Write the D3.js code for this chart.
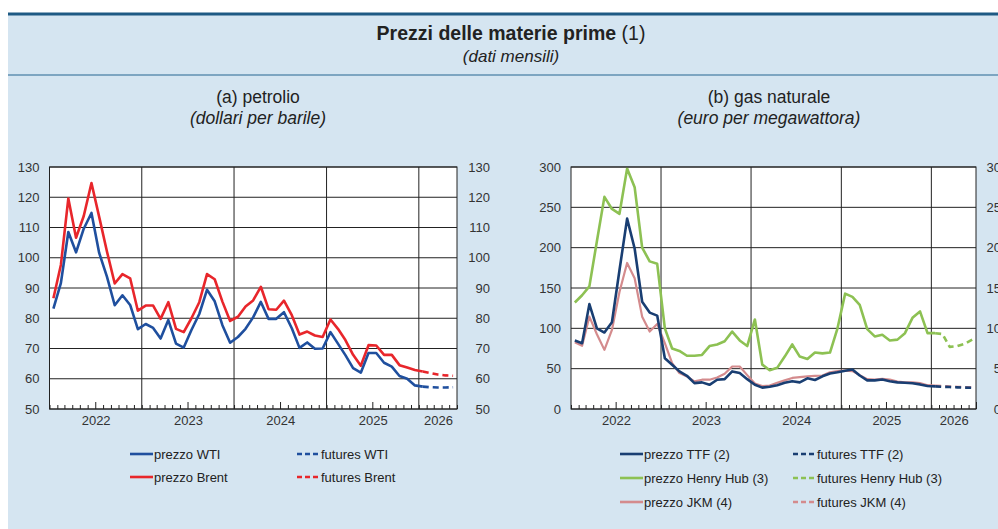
<!DOCTYPE html>
<html>
<head>
<meta charset="utf-8">
<script src="https://cdn.jsdelivr.net/npm/d3@7"></script>
<style>
body { margin: 0; background: #fff; }
svg { display: block; font-family: "Liberation Sans", Arial, sans-serif; }
</style>
</head>
<body>
<div id="chart"></div>
<script>
// monthly averages, Jan 2022 - Jan 2026
const startMonth = new Date(2022, 0, 1);
const futuresStart = new Date(2026, 0, 1);

// (a) oil, dollars per barrel
const wti = [
    83.2, 91.6, 108.5, 101.8, 109.6, 114.8, 101.6, 93.7, 84.3, 87.6, 84.4, 76.4,
    78.1, 76.8, 73.3, 79.4, 71.6, 70.3, 76.1, 81.4, 89.4, 85.6, 77.7, 71.9,
    73.8, 76.5, 80.3, 85.4, 79.8, 79.8, 82.0, 76.7, 70.2, 72.0, 69.9, 70.0,
    75.4, 71.6, 67.8, 63.5, 62.0, 68.5, 68.5, 65.3, 64.0, 60.9, 60.0, 57.8,
    57.4
];
const brent = [
    86.6, 97.6, 119.6, 106.6, 113.8, 124.7, 113.5, 102.0, 91.5, 94.6, 93.2, 82.5,
    84.2, 84.2, 79.8, 85.3, 76.5, 75.4, 80.0, 85.3, 94.6, 92.9, 85.5, 79.1,
    80.5, 83.9, 85.9, 90.4, 83.0, 82.8, 85.8, 81.0, 74.6, 75.6, 74.3, 73.8,
    79.6, 76.5, 72.8, 67.9, 64.3, 71.1, 71.0, 67.9, 67.9, 64.5, 63.7, 62.9,
    62.4
];
const futuresWti = [57.4, 57.2, 57.1, 57.1, 57.2];
const futuresBrent = [62.4, 61.9, 61.4, 61.1, 61.0];

// (b) natural gas, euro per megawatt hour (Henry Hub on right axis)
const ttf = [
    84.9, 81.6, 130.0, 100.0, 94.8, 107.5, 172.0, 236.0, 199.0, 133.0, 119.5, 115.8,
    63.0, 54.8, 46.6, 41.2, 32.1, 33.0, 30.0, 36.3, 37.0, 46.6, 44.5, 37.0,
    30.0, 26.5, 27.5, 29.5, 32.5, 34.5, 33.0, 38.0, 36.0, 40.5, 44.0, 45.5,
    47.5, 49.0, 41.5, 35.5, 35.5, 36.5, 34.5, 33.0, 32.5, 32.0, 30.5, 28.5,
    28.0
];
const jkm = [
    82.8, 78.3, 114.5, 92.7, 73.3, 98.0, 145.0, 181.0, 162.0, 114.5, 96.0, 105.5,
    81.6, 57.0, 44.5, 40.4, 34.2, 36.3, 36.3, 39.1, 43.7, 52.7, 52.7, 42.0,
    31.5, 28.5, 29.0, 32.5, 35.5, 38.5, 39.5, 40.5, 41.0, 41.5, 45.5, 47.0,
    47.5, 47.0, 42.0, 37.0, 36.5, 37.5, 36.5, 34.0, 33.0, 33.0, 32.0, 29.5,
    29.0
];
const henryHub = [
    13.2, 14.1, 15.2, 20.8, 26.3, 24.8, 24.2, 29.8, 27.5, 20.0, 18.3, 18.0,
    10.0, 7.5, 7.2, 6.6, 6.6, 6.7, 7.8, 8.0, 8.4, 9.6, 8.5, 7.8,
    11.1, 5.5, 4.8, 5.1, 6.5, 8.0, 6.5, 6.2, 7.0, 6.9, 7.0, 10.0,
    14.3, 13.9, 12.9, 9.9, 9.0, 9.2, 8.5, 8.6, 9.4, 11.3, 12.1, 9.4,
    9.4
];
const futuresTtf = [28.0, 27.6, 27.2, 26.8, 26.5, 26.3];
const futuresJkm = [29.0, 28.5, 28.0, 27.5, 27.2, 27.0];
const futuresHenryHub = [9.4, 9.3, 7.7, 7.8, 8.1, 8.6];

const oilTicks = [50, 60, 70, 80, 90, 100, 110, 120, 130];
const gasTicks = [0, 50, 100, 150, 200, 250, 300];
const henryHubTicks = [0, 5, 10, 15, 20, 25, 30];
const years = [2022, 2023, 2024, 2025, 2026];

const colors = {
    wti: "#1f4f9e", brent: "#e8262b",
    ttf: "#193e72", hh: "#8dc153", jkm: "#d48b8d"
};

const W = 998, H = 529;
const svg = d3.select("#chart").append("svg")
    .attr("width", W)
    .attr("height", H);

// frame
svg.append("rect").attr("x", 8).attr("y", 13).attr("width", W - 8).attr("height", H - 13).attr("fill", "#d5e5f1");
svg.append("line").attr("x1", 8).attr("x2", W).attr("y1", 14).attr("y2", 14).attr("stroke", "#1e5a84").attr("stroke-width", 3);
svg.append("line").attr("x1", 8).attr("x2", W).attr("y1", 75).attr("y2", 75).attr("stroke", "#5f8fb0").attr("stroke-width", 1.5);

const title = svg.append("text").attr("x", 511).attr("y", 40).attr("text-anchor", "middle")
    .attr("font-size", 19.5).attr("fill", "#222");
title.append("tspan").attr("font-weight", "bold").text("Prezzi delle materie prime");
title.append("tspan").text(" (1)");
svg.append("text").attr("x", 511).attr("y", 62).attr("text-anchor", "middle")
    .attr("font-size", 17).attr("font-style", "italic").attr("fill", "#222").text("(dati mensili)");

function monthSeries(values, start) {
    return values.map((v, i) => ({ date: d3.timeMonth.offset(start, i), value: v }));
}

function drawPanel(cfg) {
    const g = svg.append("g");
    const x = d3.scaleTime().domain(cfg.xDomain).range([cfg.left, cfg.right]);
    const y = d3.scaleLinear().domain(cfg.yDomain).range([cfg.bottom, cfg.top]);
    const y2 = cfg.y2Domain ? d3.scaleLinear().domain(cfg.y2Domain).range([cfg.bottom, cfg.top]) : y;
    const xMid = d => (x(d.date) + x(d3.timeMonth.offset(d.date, 1))) / 2;

    g.append("text").attr("x", cfg.titleX).attr("y", 103).attr("text-anchor", "middle")
        .attr("font-size", 17.5).attr("fill", "#222").text(cfg.title);
    g.append("text").attr("x", cfg.titleX).attr("y", 124).attr("text-anchor", "middle")
        .attr("font-size", 17.5).attr("font-style", "italic").attr("fill", "#222").text(cfg.subtitle);

    g.append("rect")
        .attr("x", cfg.left).attr("y", cfg.top)
        .attr("width", cfg.right - cfg.left).attr("height", cfg.bottom - cfg.top)
        .attr("fill", "#fff");

    // horizontal grid
    g.selectAll(".hgrid")
        .data(cfg.yTicks)
        .enter()
        .append("line")
        .attr("x1", cfg.left).attr("x2", cfg.right)
        .attr("y1", d => y(d)).attr("y2", d => y(d))
        .attr("stroke", "#222").attr("stroke-width", 1);

    // year separators
    g.selectAll(".vgrid")
        .data(years.slice(1).map(yr => new Date(yr, 0, 1)))
        .enter()
        .append("line")
        .attr("x1", d => x(d)).attr("x2", d => x(d))
        .attr("y1", cfg.top).attr("y2", cfg.bottom)
        .attr("stroke", "#222").attr("stroke-width", 1);

    // month ticks, longer at mid-year
    const monthAxis = g.append("g")
        .attr("transform", `translate(0,${cfg.bottom})`)
        .call(d3.axisBottom(x).ticks(d3.timeMonth.every(1)).tickSizeInner(-4).tickSizeOuter(0).tickFormat(""));
    monthAxis.select(".domain").remove();
    monthAxis.selectAll(".tick line")
        .attr("stroke", "#222")
        .attr("y2", d => d.getMonth() === 6 ? -7 : -4);

    // year labels centred on the visible part of each year
    const yearMids = years.map(yr => {
        const a = Math.max(new Date(yr, 0, 1), cfg.xDomain[0]);
        const b = Math.min(new Date(yr + 1, 0, 1), cfg.xDomain[1]);
        return new Date((a + b) / 2);
    });
    const yearAxis = g.append("g")
        .attr("transform", `translate(0,${cfg.bottom})`)
        .call(d3.axisBottom(x).tickValues(yearMids).tickSize(0).tickPadding(7)
            .tickFormat(d => d3.timeFormat("%Y")(d)));
    yearAxis.select(".domain").remove();
    yearAxis.selectAll("text").attr("font-size", 13).attr("fill", "#333").attr("font-family", null);

    const leftAxis = g.append("g")
        .attr("transform", `translate(${cfg.left},0)`)
        .call(d3.axisLeft(y).tickValues(cfg.yTicks).tickSize(0).tickPadding(10));
    leftAxis.select(".domain").remove();
    leftAxis.selectAll("text").attr("font-size", 13).attr("fill", "#333").attr("font-family", null);

    const rightAxis = g.append("g")
        .attr("transform", `translate(${cfg.right},0)`)
        .call(d3.axisRight(y2).tickValues(cfg.y2Ticks || cfg.yTicks).tickSize(0));
    rightAxis.select(".domain").remove();
    rightAxis.selectAll("text")
        .attr("x", cfg.rightLabelEnd - cfg.right)
        .attr("text-anchor", "end")
        .attr("font-size", 13).attr("fill", "#333").attr("font-family", null);

    // series
    cfg.series.forEach(s => {
        const scale = s.right ? y2 : y;
        const line = d3.line().x(xMid).y(d => scale(d.value));
        g.append("path")
            .datum(monthSeries(s.values, s.start))
            .attr("fill", "none")
            .attr("stroke", s.color)
            .attr("stroke-width", s.width || 2.6)
            .attr("stroke-linejoin", "round")
            .attr("stroke-dasharray", s.dashed ? "6,4" : null)
            .attr("d", line);
    });

    // border
    g.append("rect")
        .attr("x", cfg.left).attr("y", cfg.top)
        .attr("width", cfg.right - cfg.left).attr("height", cfg.bottom - cfg.top)
        .attr("fill", "none").attr("stroke", "#222").attr("stroke-width", 1);

    // legend
    cfg.legend.forEach(item => {
        const lg = g.append("g");
        lg.append("line")
            .attr("x1", item.x).attr("x2", item.x + 23)
            .attr("y1", item.y).attr("y2", item.y)
            .attr("stroke", item.color).attr("stroke-width", 2.6)
            .attr("stroke-dasharray", item.dashed ? "5,3" : null);
        lg.append("text")
            .attr("x", item.x + 24).attr("y", item.y + 5)
            .attr("font-size", 13).attr("fill", "#222")
            .text(item.label);
    });
}

drawPanel({
    title: "(a) petrolio", subtitle: "(dollari per barile)", titleX: 258,
    left: 49.5, right: 457, top: 167, bottom: 409,
    xDomain: [new Date(2022, 0, 1), new Date(2026, 5, 1)],
    yDomain: [50, 130], yTicks: oilTicks, rightLabelEnd: 490,
    series: [
        { values: brent, start: startMonth, color: colors.brent },
        { values: futuresBrent, start: futuresStart, color: colors.brent, dashed: true },
        { values: wti, start: startMonth, color: colors.wti },
        { values: futuresWti, start: futuresStart, color: colors.wti, dashed: true }
    ],
    legend: [
        { label: "prezzo WTI", color: colors.wti, x: 130, y: 454 },
        { label: "futures WTI", color: colors.wti, x: 297, y: 454, dashed: true },
        { label: "prezzo Brent", color: colors.brent, x: 130, y: 477 },
        { label: "futures Brent", color: colors.brent, x: 297, y: 477, dashed: true }
    ]
});

drawPanel({
    title: "(b) gas naturale", subtitle: "(euro per megawattora)", titleX: 769,
    left: 571, right: 976, top: 167, bottom: 409,
    xDomain: [new Date(2022, 0, 1), new Date(2026, 6, 1)],
    yDomain: [0, 300], yTicks: gasTicks,
    y2Domain: [0, 30], y2Ticks: henryHubTicks, rightLabelEnd: 1001,
    series: [
        { values: henryHub, start: startMonth, color: colors.hh, right: true },
        { values: futuresHenryHub, start: futuresStart, color: colors.hh, right: true, dashed: true },
        { values: jkm, start: startMonth, color: colors.jkm, width: 2.2 },
        { values: futuresJkm, start: futuresStart, color: colors.jkm, width: 2.2, dashed: true },
        { values: ttf, start: startMonth, color: colors.ttf },
        { values: futuresTtf, start: futuresStart, color: colors.ttf, dashed: true }
    ],
    legend: [
        { label: "prezzo TTF (2)", color: colors.ttf, x: 620, y: 454 },
        { label: "futures TTF (2)", color: colors.ttf, x: 793, y: 454, dashed: true },
        { label: "prezzo Henry Hub (3)", color: colors.hh, x: 620, y: 478 },
        { label: " futures Henry Hub (3)", color: colors.hh, x: 793, y: 478, dashed: true },
        { label: "prezzo JKM (4)", color: colors.jkm, x: 620, y: 502 },
        { label: " futures JKM (4)", color: colors.jkm, x: 793, y: 502, dashed: true }
    ]
});
</script>
</body>
</html>
